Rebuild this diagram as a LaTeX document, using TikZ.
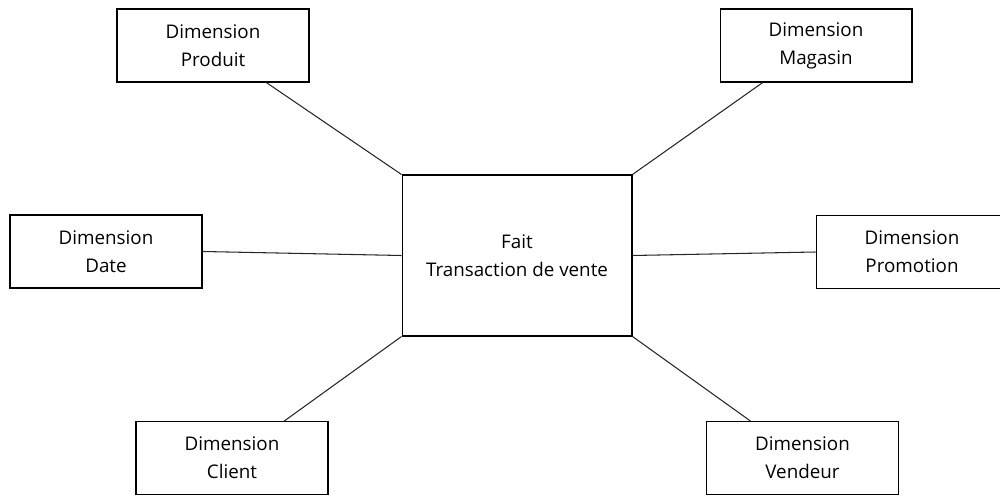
\documentclass[tikz,border=0pt]{standalone}
\usepackage{fontspec}
\setmainfont{Open Sans}
\usetikzlibrary{calc}

\tikzset{
  dimbox/.style={draw=black, line width=0.6pt, fill=white, align=center,
    minimum width=3.84cm, minimum height=1.46cm, inner sep=0pt,
    font=\fontsize{10.7pt}{15.9pt}\selectfont},
  factbox/.style={dimbox, minimum width=4.6cm, minimum height=3.22cm},
  link/.style={draw=black!85, line width=0.6pt}
}

\begin{document}
\begin{tikzpicture}[x=0.02cm, y=-0.02cm]
  % canvas: 1000 x 496 units
  \useasboundingbox (0,0) rectangle (1000,496);
  \clip (0,0) rectangle (1000,496);

  % fact table
  \node[factbox] (fait) at (517,255.5) {Fait\\Transaction de vente};

  % dimension tables
  \node[dimbox] (produit)   at (213,45.5)  {Dimension\\Produit};
  \node[dimbox] (magasin)   at (816,45.5)  {Dimension\\Magasin};
  \node[dimbox] (date)      at (106,251.5) {Dimension\\Date};
  \node[dimbox] (promotion) at (912,252)   {Dimension\\Promotion};
  \node[dimbox] (client)    at (232,458)   {Dimension\\Client};
  \node[dimbox] (vendeur)   at (802.5,458) {Dimension\\Vendeur};

  % links between the fact table and its dimensions
  \draw[link] ($(produit.south west)!0.776!(produit.south east)$) -- (fait.north west);
  \draw[link] ($(magasin.south west)!0.224!(magasin.south east)$) -- (fait.north east);
  \draw[link] (date.east) -- (fait.west);
  \draw[link] (fait.east) -- (promotion.west);
  \draw[link] ($(client.north west)!0.771!(client.north east)$) -- (fait.south west);
  \draw[link] ($(vendeur.north west)!0.23!(vendeur.north east)$) -- (fait.south east);
\end{tikzpicture}
\end{document}
